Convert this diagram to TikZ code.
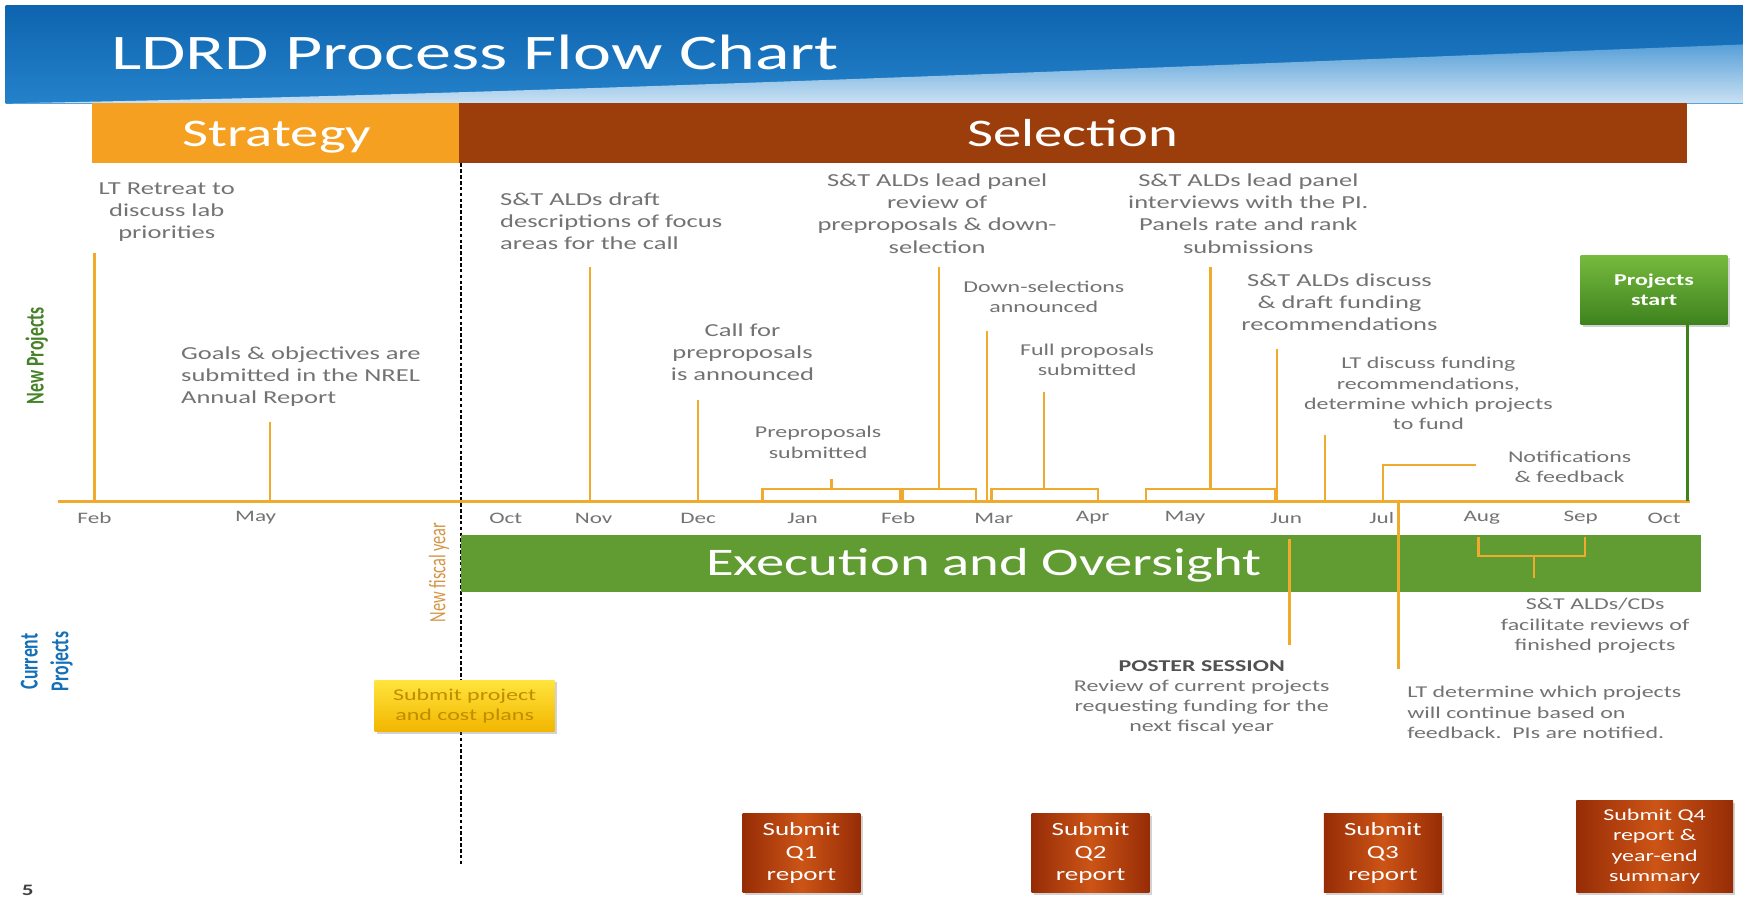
\documentclass[tikz,border=0pt]{standalone}
\usepackage{fontspec}
\setmainfont{Carlito}[FakeStretch=1.45]
\newfontfamily\narrowfont{Carlito}
\usetikzlibrary{positioning, shadows}

\definecolor{bannerblue}{RGB}{14,100,174}
\definecolor{bannerlow}{RGB}{36,130,202}
\definecolor{bannerlight}{RGB}{150,196,232}
\definecolor{stratorange}{RGB}{245,160,32}
\definecolor{selbrown}{RGB}{156,62,12}
\definecolor{execgreen}{RGB}{96,156,50}
\definecolor{tickorange}{RGB}{240,170,45}
\definecolor{labelgrey}{RGB}{115,115,115}
\definecolor{newgreen}{RGB}{70,130,40}
\definecolor{curblue}{RGB}{22,112,184}
\definecolor{fiscaltan}{RGB}{212,150,70}
\definecolor{qdark}{RGB}{150,44,6}
\definecolor{qlight}{RGB}{204,84,22}
\definecolor{startlight}{RGB}{118,186,62}
\definecolor{startdark}{RGB}{62,130,30}
\definecolor{planlight}{RGB}{255,228,60}
\definecolor{plandark}{RGB}{242,182,0}
\definecolor{plantext}{RGB}{192,140,0}

\newcommand{\lblsize}{\fontsize{10.3}{12.5}\selectfont}
\newcommand{\smlsize}{\fontsize{9.3}{11.4}\selectfont}

\begin{document}
\begin{tikzpicture}
[
    x = 0.022cm, y = -0.022cm,
    every node/.style = {inner sep = 0pt, outer sep = 0pt, align = center},
    TickStyle/.style = {draw = tickorange, line width = 1.3pt},
    LabelStyle/.style = {text = labelgrey, font = \lblsize},
    SmallStyle/.style = {text = labelgrey, font = \smlsize},
    MonthStyle/.style = {text = labelgrey, font = \fontsize{9}{11}\selectfont},
    BarStyle/.style = {minimum height = 1.188cm},
    BarText/.style = {text = white, font = \fontsize{22}{26}\selectfont, anchor = base}
  ]

  \tikzset{ReportStyle/.style = {left color     = qdark,
                                 right color    = qdark,
                                 middle color   = qlight,
                                 text           = white,
                                 font           = \fontsize{10.5}{12.8}\selectfont,
                                 minimum width  = 2.332cm,
                                 minimum height = 1.562cm,
                                 drop shadow    = {opacity = 0.35, shadow xshift = 1.2pt, shadow yshift = -1.2pt}}}

  \useasboundingbox (0,0) rectangle (1568,813);
  \fill[white] (0,0) rectangle (1568,813);

  % banner
  \shade[top color = bannerblue, bottom color = bannerlow] (5,5) rectangle (1568,93);
  \shade[top color = bannerlow!55!bannerlight, bottom color = bannerlight!50] (5,93) .. controls (500,84) and (1000,62) .. (1568,40) -- (1568,93) -- cycle;
  \node[text = white, font = \fontsize{28}{34}\selectfont, anchor = west] (title) at (100,47) {LDRD Process Flow Chart};

  % phase bars
  \node[BarStyle, fill = stratorange, minimum width = 7.26cm, anchor = north west] (strat) at (83,93) {};
  \node[BarStyle, fill = selbrown, minimum width = 24.31cm, right = 0pt of strat] (sel) {};
  \node[BarText] (strattxt) at (249,132) {Strategy};
  \node[BarText] (seltxt) at (965,132) {Selection};

  \coordinate (fy1) at (415,147);
  \coordinate (fy2) at (415,778);
  \draw[line width = 1.3pt, dash pattern = on 2pt off 1.3pt] (fy1) -- (fy2);
  \node[text = fiscaltan, font = \narrowfont\fontsize{9.2}{11}\selectfont, xscale = 1.45, rotate = 90] (fiscal) at (395,515) {New fiscal year};

  \node[fill = execgreen, minimum width = 24.53cm, minimum height = 1.144cm, anchor = north west] (exec) at (415,481) {};
  \node[BarText] (exectxt) at (885,518) {Execution and Oversight};

  % side titles
  \node[text = newgreen, font = \narrowfont\bfseries\fontsize{10}{12}\selectfont, xscale = 1.45, rotate = 90] (newp) at (33,320) {New Projects};
  \node[text = curblue, font = \narrowfont\bfseries\fontsize{10}{12}\selectfont, xscale = 1.45, rotate = 90] (curp) at (42,595) {Current\\Projects};
  \node[text = black!75, font = \bfseries\fontsize{9}{11}\selectfont] (page) at (25,801) {5};

  % time axis
  \coordinate (ax1) at (52,451);
  \coordinate (ax2) at (1520,451);
  \draw[TickStyle] (ax1) -- (ax2);
  \foreach \x/\m [count=\i] in {85/Feb, 230/May, 455/Oct, 534/Nov, 628/Dec, 722/Jan, 808/Feb, 894/Mar,
                                983/Apr, 1066/May, 1157/Jun, 1243/Jul, 1333/Aug, 1422/Sep, 1497/Oct}
    \node[MonthStyle] (m\i) at (\x,466) {\m};

  % single events
  \foreach \x/\y [count=\i] in {85/228, 243/380, 531/240, 628/360, 888/298, 1149/314, 1192/391}
  {
    \coordinate (a\i) at (\x,451);
    \coordinate (b\i) at (\x,\y);
    \draw[TickStyle] (a\i) -- (b\i);
  }

  % brackets
  \foreach \l/\r/\c/\y [count=\i] in {686/810/748/431, 812/878/845/240, 892/988/939/353, 1031/1147/1089/240}
  {
    \coordinate (bl\i) at (\l,451);
    \coordinate (br\i) at (\r,451);
    \coordinate (bc\i) at (\c,440);
    \coordinate (bt\i) at (\c,\y);
    \draw[TickStyle] (bl\i) -- ++(0,-11) -| (br\i);
    \draw[TickStyle] (bc\i) -- (bt\i);
  }

  \coordinate (nf1) at (1244,451);
  \coordinate (nf2) at (1328,418);
  \draw[TickStyle] (nf1) |- (nf2);

  \node[LabelStyle] (lbl1) at (150,191) {LT Retreat to\\discuss lab\\priorities};
  \node[LabelStyle, align = left, anchor = west] (lbl2) at (163,339) {Goals \& objectives are\\submitted in the NREL\\Annual Report};
  \node[LabelStyle, align = left, anchor = west] (lbl3) at (450,199) {S\&T ALDs draft\\descriptions of focus\\areas for the call};
  \node[LabelStyle] (lbl4) at (668,317) {Call for\\preproposals\\is announced};
  \node[SmallStyle] (lbl5) at (736,398) {Preproposals\\submitted};
  \node[LabelStyle] (lbl6) at (843,192) {S\&T ALDs lead panel\\review of\\preproposals \& down-\\selection};
  \node[SmallStyle] (lbl7) at (939,267) {Down-selections\\announced};
  \node[SmallStyle] (lbl8) at (978,324) {Full proposals\\submitted};
  \node[LabelStyle] (lbl9) at (1123,192) {S\&T ALDs lead panel\\interviews with the PI.\\Panels rate and rank\\submissions};
  \node[LabelStyle] (lbl10) at (1205,272) {S\&T ALDs discuss\\\& draft funding\\recommendations};
  \node[SmallStyle] (lbl11) at (1285,354) {LT discuss funding\\recommendations,\\determine which projects\\to fund};
  \node[SmallStyle] (lbl12) at (1412,420) {Notifications\\\& feedback};

  \node[top color = startlight, bottom color = startdark, text = white, font = \bfseries\fontsize{9.3}{11.4}\selectfont,
        minimum width = 2.904cm, minimum height = 1.364cm,
        drop shadow = {opacity = 0.35, shadow xshift = 1.2pt, shadow yshift = -1.2pt}] (start) at (1488,261) {Projects\\start};
  \coordinate (st1) at (1518,451);
  \draw[draw = startdark, line width = 1.3pt] (st1) -- (st1 |- start.south);

  % current projects
  \coordinate (ps1) at (1160,485);
  \coordinate (ps2) at (1160,580);
  \draw[TickStyle] (ps1) -- (ps2);
  \coordinate (ju1) at (1258,451);
  \coordinate (ju2) at (1258,602);
  \draw[TickStyle] (ju1) -- (ju2);
  \coordinate (fr1) at (1330,483);
  \coordinate (fr2) at (1426,483);
  \coordinate (fr3) at (1380,500);
  \coordinate (fr4) at (1380,520);
  \draw[TickStyle] (fr1) -- ++(0,17) -| (fr2);
  \draw[TickStyle] (fr3) -- (fr4);

  \node[SmallStyle] (lbl13) at (1081,627.5) {{\color{labelgrey!70!black}\bfseries POSTER SESSION}\\Review of current projects\\requesting funding for the\\next fiscal year};
  \node[SmallStyle, align = left, anchor = west] (lbl14) at (1266,641) {LT determine which projects\\will continue based on\\feedback.\ \ PIs are notified.};
  \node[SmallStyle] (lbl15) at (1435,563) {S\&T ALDs/CDs\\facilitate reviews of\\finished projects};

  \node[top color = planlight, bottom color = plandark, text = plantext, font = \fontsize{9.3}{11.3}\selectfont,
        minimum width = 3.564cm, minimum height = 1.012cm,
        drop shadow = {opacity = 0.35, shadow xshift = 1.2pt, shadow yshift = -1.2pt}] (plan) at (418,635) {Submit project\\and cost plans};

  % quarterly reports
  \node[ReportStyle] (q1) at (721,767.5) {Submit\\Q1\\report};
  \node[ReportStyle, right = 3.39cm of q1] (q2) {Submit\\Q2\\report};
  \node[ReportStyle, right = 3.454cm of q2] (q3) {Submit\\Q3\\report};
  \node[ReportStyle, font = \fontsize{9.3}{11.4}\selectfont, minimum width = 3.102cm, minimum height = 1.826cm] (q4) at (1488.5,761.5) {Submit Q4\\report \&\\year-end\\summary};
\end{tikzpicture}
\end{document}
